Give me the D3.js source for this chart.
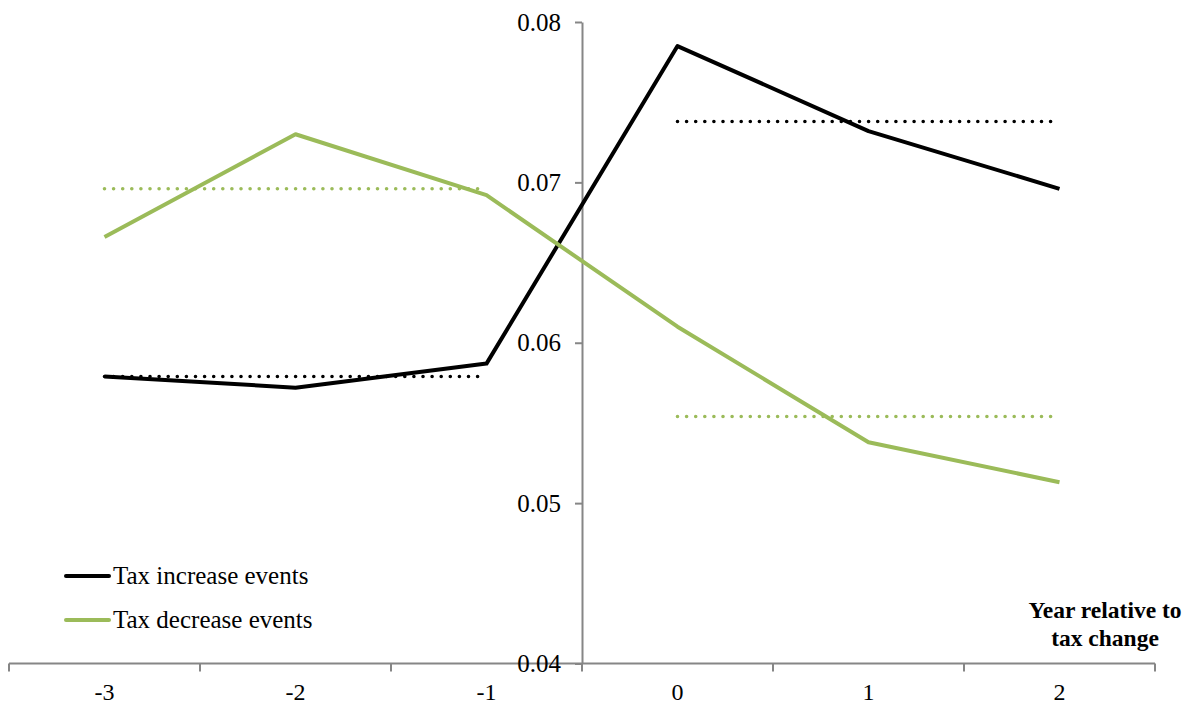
<!DOCTYPE html>
<html>
<head>
<meta charset="utf-8">
<script src="https://cdn.jsdelivr.net/npm/d3@7"></script>
<style>
  body { margin: 0; background: #fff; }
  svg text { font-family: "Liberation Serif", "Times New Roman", serif; fill: #000; }
</style>
</head>
<body>
<svg id="chart" width="1196" height="706"></svg>
<script>
const years = [-3, -2, -1, 0, 1, 2]
const yTicks = [0.04, 0.05, 0.06, 0.07, 0.08]

const taxIncrease = [0.0579, 0.0572, 0.0587, 0.0785, 0.0732, 0.0696]
const taxDecrease = [0.0666, 0.0730, 0.0692, 0.0610, 0.0538, 0.0513]

// pre / post averages (dotted)
const increaseAvg = [
  { from: -3, to: -1, value: 0.0579 },
  { from: 0, to: 2, value: 0.0738 }
]
const decreaseAvg = [
  { from: -3, to: -1, value: 0.0696 },
  { from: 0, to: 2, value: 0.0554 }
]

const series = [
  { name: 'Tax increase events', values: taxIncrease, avg: increaseAvg, color: '#000000' },
  { name: 'Tax decrease events', values: taxDecrease, avg: decreaseAvg, color: '#9BBB59' }
]

const svg = d3.select('#chart')
const axisColor = '#868686'

const x = d3.scaleBand()
  .domain(years)
  .range([9, 1155])
  .padding(0)

const cx = d => x(d) + x.bandwidth() / 2

const y = d3.scaleLinear()
  .domain([0.04, 0.08])
  .range([663.5, 22])

// x axis: ticks at category boundaries, labels at centres
const boundaries = years.map(d => x(d)).concat([x(years[years.length - 1]) + x.bandwidth()])
const xg = svg.append('g')
xg.append('line')
  .attr('x1', boundaries[0]).attr('x2', boundaries[boundaries.length - 1])
  .attr('y1', y(0.04)).attr('y2', y(0.04))
  .attr('stroke', axisColor).attr('stroke-width', 2)
xg.selectAll('.tick')
  .data(boundaries)
  .enter().append('line')
  .attr('x1', d => d).attr('x2', d => d)
  .attr('y1', y(0.04)).attr('y2', y(0.04) + 8)
  .attr('stroke', axisColor).attr('stroke-width', 2)
xg.selectAll('.xlab')
  .data(years)
  .enter().append('text')
  .attr('x', cx)
  .attr('y', 700)
  .attr('text-anchor', 'middle')
  .attr('font-size', 24)
  .text(d => d)

// y axis sits on the boundary between -1 and 0
const yAxis = d3.axisLeft(y)
  .tickValues(yTicks)
  .tickFormat(d3.format('.2f'))
  .tickSize(7)
  .tickPadding(14)
  .tickSizeOuter(0)

const yg = svg.append('g')
  .attr('transform', `translate(${x(0)},0)`)
  .call(yAxis)
yg.select('.domain').attr('stroke', axisColor).attr('stroke-width', 2)
yg.selectAll('.tick line').attr('stroke', axisColor).attr('stroke-width', 2)
yg.selectAll('.tick text')
  .attr('font-size', 25)
  .attr('font-family', '"Liberation Serif", "Times New Roman", serif')
  .attr('fill', '#000')

const line = d3.line()
  .x((d, i) => cx(years[i]))
  .y(d => y(d))

// dotted average lines
series.forEach(s => {
  svg.append('g').selectAll('line')
    .data(s.avg)
    .enter().append('line')
    .attr('x1', d => cx(d.from))
    .attr('x2', d => cx(d.to) - 6)
    .attr('y1', d => y(d.value))
    .attr('y2', d => y(d.value))
    .attr('stroke', s.color)
    .attr('stroke-width', 3.6)
    .attr('stroke-linecap', 'round')
    .attr('stroke-dasharray', '0,9.1')
})

// series lines
series.forEach(s => {
  svg.append('path')
    .datum(s.values)
    .attr('d', line)
    .attr('fill', 'none')
    .attr('stroke', s.color)
    .attr('stroke-width', 4)
    .attr('stroke-linejoin', 'round')
})

// legend
const legend = svg.append('g')
  .selectAll('g')
  .data(series)
  .enter().append('g')
  .attr('transform', (d, i) => `translate(66,${576 + i * 44})`)
legend.append('line')
  .attr('x1', 0).attr('x2', 43)
  .attr('stroke', d => d.color)
  .attr('stroke-width', 4)
  .attr('stroke-linecap', 'round')
legend.append('text')
  .attr('x', 47)
  .attr('y', 8)
  .attr('font-size', 25)
  .text(d => d.name)

// axis title
const title = svg.append('text')
  .attr('text-anchor', 'middle')
  .attr('font-size', 23.5)
  .attr('font-weight', 'bold')
title.append('tspan').attr('x', 1105).attr('y', 618).text('Year relative to')
title.append('tspan').attr('x', 1105).attr('y', 646).text('tax change')
</script>
</body>
</html>
